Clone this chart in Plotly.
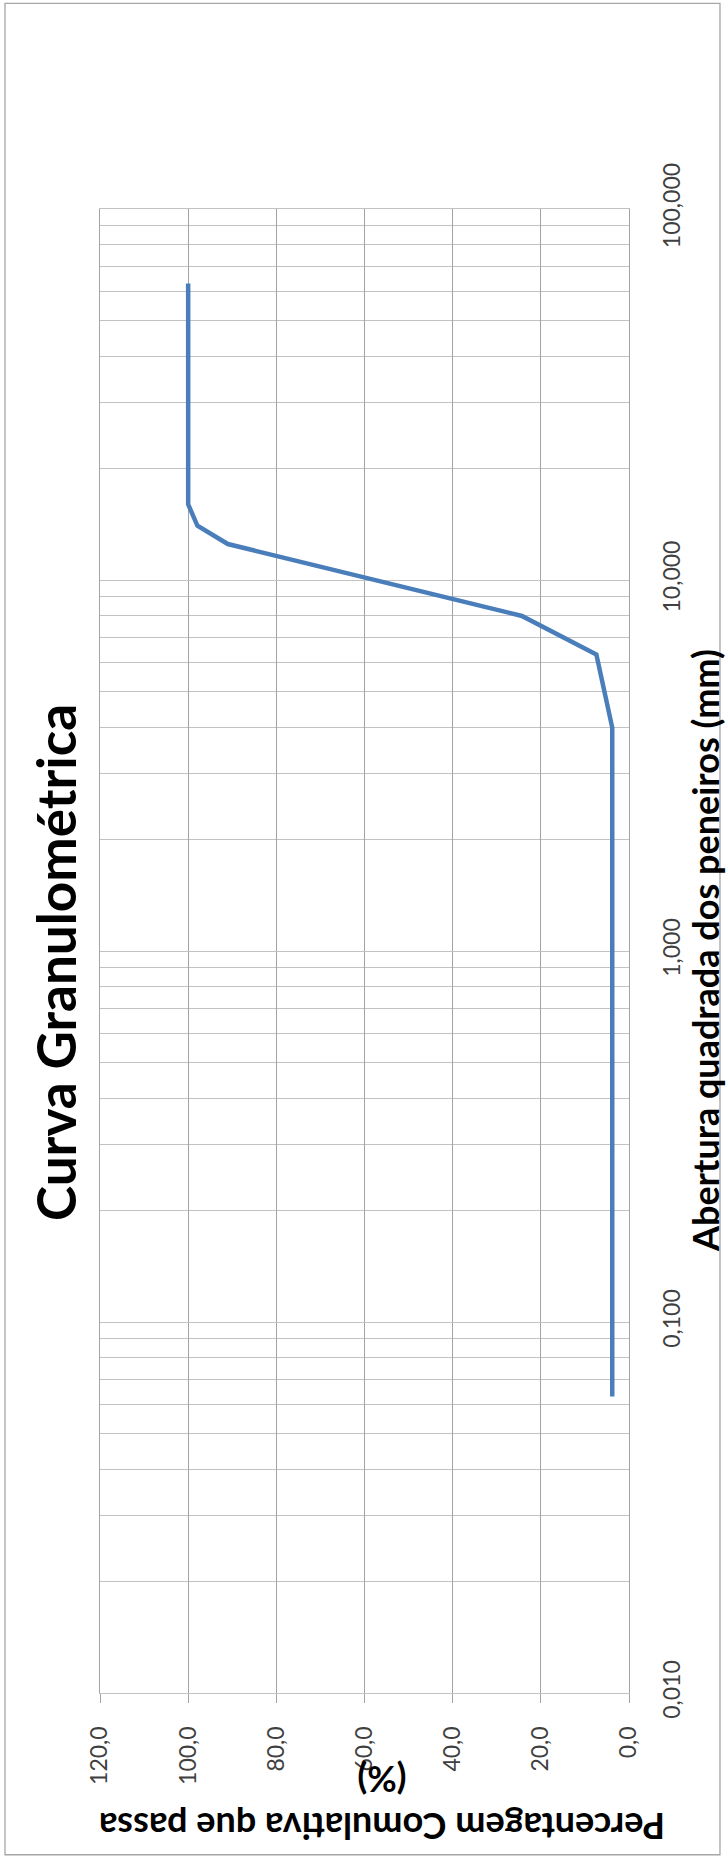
import plotly.graph_objects as go

# Sieve openings (mm) and cumulative percentage passing
abertura_mm = [0.063, 4.0, 6.3, 8.0, 12.5, 14.0, 16.0, 63.0]
passa_pct = [3.8, 3.8, 7.4, 24.3, 91.0, 97.9, 100.0, 100.0]

# Axis tick values and their labels (decimal comma)
pct_ticks = [0, 20, 40, 60, 80, 100, 120]
pct_labels = ["0,0", "20,0", "40,0", "60,0", "80,0", "100,0", "120,0"]
mm_ticks = [0.01, 0.1, 1, 10, 100]
mm_labels = ["0,010", "0,100", "1,000", "10,000", "100,000"]
mm_minor = [m * 10 ** e for e in range(-2, 2) for m in range(2, 10)]

FONT = "Lato"
GRID_V = "#A3A3A3"
GRID_H = "#C2C2C2"

fig = go.Figure()
fig.add_trace(go.Scatter(
    x=passa_pct, y=abertura_mm, mode="lines",
    line=dict(color="#4A7EBB", width=4.5),
    showlegend=False, hoverinfo="skip",
))

fig.update_layout(
    width=726, height=1856, autosize=False,
    margin=dict(l=100, r=97, t=209, b=163),
    paper_bgcolor="white", plot_bgcolor="white",
    font=dict(family=FONT, color="#404040"),
    xaxis=dict(
        range=[120, 0], tickvals=pct_ticks, ticktext=pct_labels,
        tickangle=-90, tickfont=dict(size=23, family=FONT, color="#404040"),
        showgrid=True, gridcolor=GRID_V, gridwidth=1.3, zeroline=False,
        showline=True, linecolor=GRID_H, linewidth=1.3, mirror=True,
        ticks="outside", ticklen=9, tickcolor=GRID_V, tickwidth=1.3,
        ticklabelstandoff=14,
    ),
    yaxis=dict(
        type="log", range=[-2, 2], side="right",
        tickvals=mm_ticks, ticktext=mm_labels,
        tickangle=-90, tickfont=dict(size=23, family=FONT, color="#404040"),
        showgrid=True, gridcolor=GRID_H, gridwidth=1.3, zeroline=False,
        minor=dict(tickvals=mm_minor, showgrid=True, gridcolor=GRID_H,
                   gridwidth=1.3, ticks=""),
        showline=True, linecolor=GRID_V, linewidth=1.3, mirror=True,
        ticks="", ticklabelstandoff=22,
    ),
)

# Chart title, rotated along the left side
fig.add_annotation(
    text="<b>Curva Granulométrica</b>", textangle=-90,
    xref="paper", yref="paper", x=-0.083, y=0.492,
    xanchor="center", yanchor="middle", showarrow=False,
    font=dict(family=FONT, size=53, color="#000000"),
)
# Title of the sieve-opening axis
fig.add_annotation(
    text="<b>Abertura quadrada dos peneiros (mm)</b>", textangle=-90,
    xref="paper", yref="paper", x=1.1437, y=0.5,
    xanchor="center", yanchor="middle", showarrow=False,
    font=dict(family=FONT, size=36, color="#000000"),
)
# Title of the percentage axis, upside down
fig.add_annotation(
    text="<b>Percentagem Comulativa que passa<br>(%)</b>", textangle=180,
    xref="paper", yref="paper", x=0.533, y=-0.0748,
    xanchor="center", yanchor="middle", showarrow=False,
    font=dict(family=FONT, size=36, color="#000000"),
)

# Chart-area frame
fig.add_shape(
    type="rect", xref="paper", yref="paper",
    x0=-0.1796, x1=1.172, y0=-0.109, y1=1.1385,
    line=dict(color="#A6A6A6", width=1.3), layer="below",
)

fig.write_html("out.html")
